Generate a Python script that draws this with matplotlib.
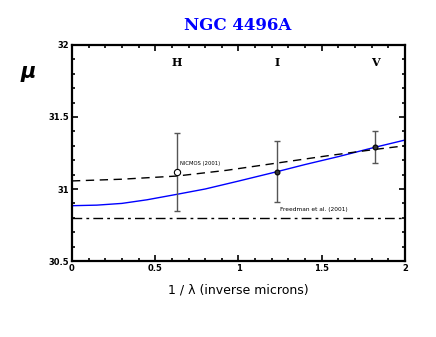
import numpy as np
import matplotlib
matplotlib.use('Agg')
import matplotlib.pyplot as plt
from matplotlib.ticker import MultipleLocator, FuncFormatter

# band measurements
bands = ['H', 'I', 'V']
inv_lambda = [0.63, 1.23, 1.82]
mu = [31.12, 31.12, 31.29]
mu_err = [0.27, 0.21, 0.11]

# fitted extinction curve (blue)
fit_x = [0.0, 0.15, 0.3, 0.45, 0.63, 0.8, 1.0, 1.23, 1.4, 1.6, 1.82, 2.0]
fit_mu = [30.884, 30.888, 30.90, 30.925, 30.963, 31.0, 31.055, 31.12,
          31.17, 31.225, 31.29, 31.34]

# NICMOS (2001) dashed curve
dash_x = [0.0, 0.3, 0.63, 0.93, 1.23, 1.53, 1.82, 2.0]
dash_mu = [31.056, 31.068, 31.09, 31.13, 31.18, 31.23, 31.275, 31.30]

freedman_mu = 30.80

fig = plt.figure(figsize=(4.36, 3.37), dpi=100)
ax = fig.add_axes([0.165, 0.2255, 0.764, 0.641])

ax.plot(fit_x, fit_mu, color='blue', lw=1.0)
ax.plot(dash_x, dash_mu, color='black', lw=1.0, dashes=(6, 4))
ax.axhline(freedman_mu, color='black', lw=1.0, dashes=(7, 3, 2, 3))

ax.errorbar(inv_lambda, mu, yerr=mu_err, fmt='none', ecolor='#555555',
            elinewidth=1.0, capsize=2, capthick=1.0)
ax.plot(inv_lambda[0], mu[0], 'o', mfc='white', mec='black', ms=4.5, mew=0.8)
ax.plot(inv_lambda[1:], mu[1:], 'o', mfc='#333333', mec='black', ms=3.5, mew=0.8)

for b, x in zip(bands, inv_lambda):
    ax.text(x, 31.88, b, ha='center', va='center', fontsize=8,
            family='DejaVu Serif', fontweight='bold')

ax.text(0.65, 31.18, 'NICMOS (2001)', fontsize=3.8, ha='left', va='center')
ax.text(1.25, 30.855, 'Freedman et al. (2001)', fontsize=4.2, ha='left', va='center')

ax.set_xlim(0, 2)
ax.set_ylim(30.5, 32)
ax.xaxis.set_major_locator(MultipleLocator(0.5))
ax.xaxis.set_minor_locator(MultipleLocator(0.1))
ax.yaxis.set_major_locator(MultipleLocator(0.5))
ax.yaxis.set_minor_locator(MultipleLocator(0.1))
fmt = FuncFormatter(lambda v, p: ('%g' % v))
ax.xaxis.set_major_formatter(fmt)
ax.yaxis.set_major_formatter(fmt)
ax.tick_params(which='both', direction='in', top=True, right=True, width=1.2)
ax.tick_params(which='major', length=4.5, labelsize=6, pad=2)
ax.tick_params(which='minor', length=2.5)
for lab in ax.get_xticklabels() + ax.get_yticklabels():
    lab.set_fontweight('bold')
for s in ax.spines.values():
    s.set_linewidth(1.6)

ax.set_xlabel('1 / \u03bb (inverse microns)', fontsize=9, labelpad=8)
fig.text(0.065, 0.785, '\u03bc', fontsize=15, fontweight='bold', style='italic',
         ha='center', va='center')
fig.text(0.545, 0.925, 'NGC 4496A', fontsize=12, color='blue', fontweight='bold',
         family='DejaVu Serif', ha='center', va='center')

fig.savefig('out.png', dpi=100)
